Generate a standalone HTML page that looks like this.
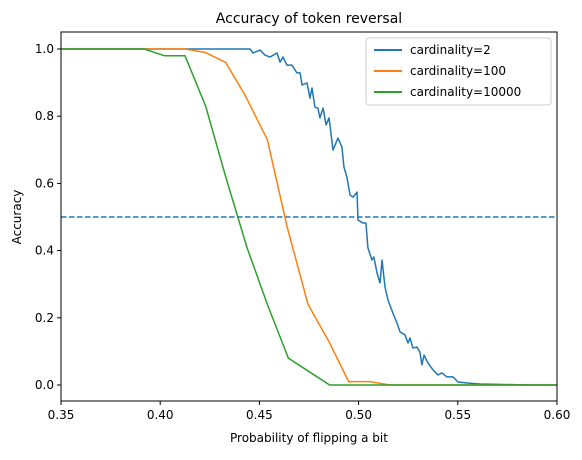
<!DOCTYPE html>
<html><head><meta charset="utf-8"><style>
body{margin:0;background:#fff;font-family:"Liberation Sans","DejaVu Sans",sans-serif}
svg text{font-family:"DejaVu Sans","Liberation Sans",sans-serif}
</style></head><body>
<svg id="chart" width="582" height="455" xmlns="http://www.w3.org/2000/svg">
<rect width="582" height="455" fill="#fff"/>
<text x="309" y="23" font-size="14" text-anchor="middle">Accuracy of token reversal</text>
<text x="309" y="442" font-size="12" text-anchor="middle">Probability of flipping a bit</text>
<text x="21" y="217" font-size="12" text-anchor="middle" transform="rotate(-90 21 217)">Accuracy</text>
<g id="plot"></g>
<rect x="61" y="32" width="496" height="369" fill="none" stroke="#000" stroke-width="1"/>
<g>
<rect x="366" y="38" width="185" height="67" rx="3" fill="#fff" stroke="#ccc"/>
<line x1="374" y1="50" x2="402" y2="50" stroke="#1f77b4" stroke-width="2"/>
<text x="410" y="54" font-size="12">cardinality=2</text>
<line x1="374" y1="71" x2="402" y2="71" stroke="#ff7f0e" stroke-width="2"/>
<text x="410" y="75" font-size="12">cardinality=100</text>
<line x1="374" y1="92" x2="402" y2="92" stroke="#2ca02c" stroke-width="2"/>
<text x="410" y="96" font-size="12">cardinality=10000</text>
</g>
</svg>
<script>
const xTicks=[0.35,0.40,0.45,0.50,0.55,0.60];
const yTicks=[0.0,0.2,0.4,0.6,0.8,1.0];
const threshold=0.5;
const blueX=[0.35,0.4453,0.4468,0.4503,0.4528,0.4553,0.4589,0.4604,0.4619,0.4639,0.4664,0.4689,0.4705,0.4715,0.4740,0.4755,0.4765,0.4780,0.4795,0.4805,0.4821,0.4836,0.4851,0.4871,0.4896,0.4916,0.4926,0.4941,0.4957,0.4972,0.4992,0.4997,0.5022,0.5037,0.5047,0.5067,0.5077,0.5093,0.5108,0.5118,0.5133,0.5148,0.5173,0.5193,0.5209,0.5234,0.5249,0.5259,0.5274,0.5294,0.5309,0.5319,0.5330,0.5350,0.5375,0.5400,0.5420,0.5445,0.5476,0.5501,0.5546,0.5612,0.5864,0.60];
const blueY=[1,1,0.988,0.997,0.982,0.976,0.988,0.961,0.976,0.952,0.952,0.929,0.929,0.893,0.899,0.854,0.884,0.827,0.824,0.795,0.824,0.774,0.795,0.699,0.735,0.708,0.649,0.619,0.565,0.559,0.574,0.491,0.482,0.482,0.408,0.372,0.381,0.333,0.304,0.372,0.292,0.253,0.214,0.185,0.158,0.149,0.125,0.140,0.110,0.113,0.098,0.060,0.089,0.065,0.045,0.030,0.036,0.024,0.024,0.009,0.006,0.003,0,0];
const orangeX=[0.35,0.392,0.4125,0.4226,0.433,0.443,0.454,0.464,0.4745,0.485,0.495,0.5057,0.516,0.60];
const orangeY=[1,1,1,0.99,0.96,0.86,0.73,0.47,0.24,0.13,0.01,0.01,0,0];
const greenX=[0.35,0.392,0.402,0.4125,0.4229,0.433,0.4437,0.454,0.4646,0.475,0.4854,0.60];
const greenY=[1,1,0.98,0.98,0.83,0.62,0.41,0.24,0.08,0.04,0,0];
const X0=61,X1=557,Y0=385,Y1=49;
const sx=v=>X0+(v-0.35)/0.25*(X1-X0);
const sy=v=>Y0-v*(Y0-Y1);
const NS="http://www.w3.org/2000/svg";
const g=document.getElementById('plot');
function mk(t,a){const e=document.createElementNS(NS,t);for(const k in a)e.setAttribute(k,a[k]);g.appendChild(e);return e;}
xTicks.forEach(v=>{
 const t=mk('line',{x1:sx(v),x2:sx(v),y1:401,y2:405,stroke:'#000'});
 
 
 const l=mk('text',{x:sx(v),y:419,'font-size':12,'text-anchor':'middle'});
 l.textContent=v.toFixed(2);
 
 
});
yTicks.forEach(v=>{
 const t=mk('line',{x1:57,x2:61,y1:sy(v),y2:sy(v),stroke:'#000'});
 
 
 const l=mk('text',{x:54,y:sy(v)+4,'font-size':12,'text-anchor':'end'});
 l.textContent=v.toFixed(1);
 
 
});
const th=mk('line',{x1:X0,x2:X1,y1:sy(threshold),y2:sy(threshold),stroke:'#1f77b4','stroke-width':1.5,'stroke-dasharray':'5.5,2.5'});


function series(xs,ys,c,name){
 const p=mk('polyline',{points:xs.map((x,i)=>sx(x)+','+sy(ys[i])).join(' '),fill:'none',stroke:c,'stroke-width':1.5,'stroke-linejoin':'round'});
 
 
}
series(blueX,blueY,'#1f77b4','series-cardinality-2');
series(orangeX,orangeY,'#ff7f0e','series-cardinality-100');
series(greenX,greenY,'#2ca02c','series-cardinality-10000');
</script>
</body></html>
